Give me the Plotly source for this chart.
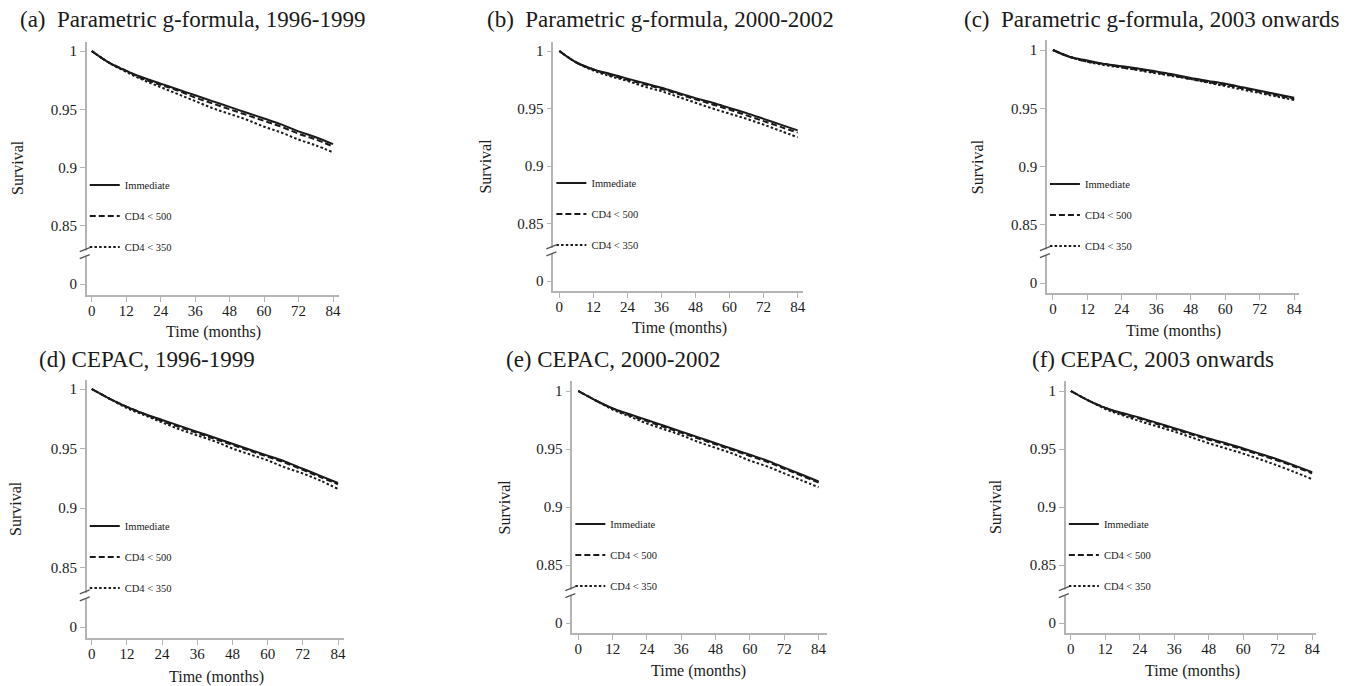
import plotly.graph_objects as go

# Follow-up time (months) at which survival is tabulated
months = [0, 6, 12, 18, 24, 30, 36, 42, 48, 54, 60, 66, 72, 78, 84]

# (a) Parametric g-formula, 1996-1999
a_immediate = [1.000, 0.990, 0.983, 0.977, 0.972, 0.967, 0.962, 0.957, 0.952, 0.947, 0.942, 0.937, 0.931, 0.926, 0.920]
a_cd4_500 = [1.000, 0.990, 0.983, 0.976, 0.971, 0.966, 0.960, 0.955, 0.950, 0.945, 0.940, 0.935, 0.929, 0.924, 0.918]
a_cd4_350 = [1.000, 0.990, 0.982, 0.975, 0.969, 0.963, 0.957, 0.951, 0.946, 0.941, 0.935, 0.930, 0.924, 0.919, 0.913]

# (b) Parametric g-formula, 2000-2002
b_immediate = [1.000, 0.990, 0.984, 0.980, 0.976, 0.972, 0.968, 0.9635, 0.959, 0.955, 0.9505, 0.946, 0.941, 0.936, 0.931]
b_cd4_500 = [1.000, 0.990, 0.984, 0.979, 0.975, 0.971, 0.967, 0.9625, 0.958, 0.9535, 0.949, 0.944, 0.939, 0.934, 0.929]
b_cd4_350 = [1.000, 0.990, 0.983, 0.978, 0.974, 0.969, 0.965, 0.960, 0.955, 0.950, 0.9455, 0.941, 0.936, 0.9305, 0.925]

# (c) Parametric g-formula, 2003 onwards
c_immediate = [1.000, 0.994, 0.991, 0.988, 0.986, 0.984, 0.9815, 0.979, 0.976, 0.9735, 0.971, 0.968, 0.965, 0.962, 0.959]
c_cd4_500 = [1.000, 0.994, 0.990, 0.988, 0.985, 0.983, 0.9805, 0.978, 0.975, 0.9725, 0.970, 0.967, 0.964, 0.961, 0.958]
c_cd4_350 = [1.000, 0.994, 0.990, 0.987, 0.985, 0.9825, 0.980, 0.9775, 0.975, 0.972, 0.969, 0.966, 0.963, 0.960, 0.957]

# (d) CEPAC, 1996-1999
d_immediate = [1.000, 0.992, 0.985, 0.979, 0.974, 0.969, 0.964, 0.959, 0.954, 0.949, 0.944, 0.939, 0.933, 0.927, 0.921]
d_cd4_500 = [1.000, 0.992, 0.985, 0.979, 0.973, 0.968, 0.963, 0.958, 0.953, 0.948, 0.943, 0.938, 0.932, 0.926, 0.920]
d_cd4_350 = [1.000, 0.992, 0.984, 0.978, 0.972, 0.966, 0.961, 0.956, 0.950, 0.945, 0.940, 0.934, 0.929, 0.923, 0.916]

# (e) CEPAC, 2000-2002
e_immediate = [1.000, 0.992, 0.985, 0.980, 0.975, 0.970, 0.965, 0.960, 0.955, 0.950, 0.945, 0.940, 0.934, 0.928, 0.922]
e_cd4_500 = [1.000, 0.992, 0.985, 0.979, 0.974, 0.969, 0.964, 0.959, 0.954, 0.949, 0.944, 0.939, 0.933, 0.927, 0.921]
e_cd4_350 = [1.000, 0.992, 0.984, 0.978, 0.972, 0.967, 0.962, 0.956, 0.951, 0.946, 0.940, 0.935, 0.929, 0.923, 0.917]

# (f) CEPAC, 2003 onwards
f_immediate = [1.000, 0.992, 0.9855, 0.981, 0.977, 0.9725, 0.968, 0.9635, 0.959, 0.955, 0.9505, 0.9458, 0.941, 0.9357, 0.930]
f_cd4_500 = [1.000, 0.992, 0.9855, 0.980, 0.976, 0.9715, 0.967, 0.9625, 0.958, 0.954, 0.9495, 0.9447, 0.940, 0.9347, 0.929]
f_cd4_350 = [1.000, 0.992, 0.9845, 0.979, 0.974, 0.9695, 0.965, 0.960, 0.955, 0.9505, 0.946, 0.941, 0.9357, 0.930, 0.924]

panel_titles = [
    "(a)  Parametric g-formula, 1996-1999",
    "(b)  Parametric g-formula, 2000-2002",
    "(c)  Parametric g-formula, 2003 onwards",
    "(d) CEPAC, 1996-1999",
    "(e) CEPAC, 2000-2002",
    "(f) CEPAC, 2003 onwards",
]
series_names = ["Immediate", "CD4 < 500", "CD4 < 350"]
panel_series = [
    [a_immediate, a_cd4_500, a_cd4_350],
    [b_immediate, b_cd4_500, b_cd4_350],
    [c_immediate, c_cd4_500, c_cd4_350],
    [d_immediate, d_cd4_500, d_cd4_350],
    [e_immediate, e_cd4_500, e_cd4_350],
    [f_immediate, f_cd4_500, f_cd4_350],
]

# The y axis is broken: the lowest tick ("0") sits one step below 0.85
y_tick_vals = [0.80, 0.85, 0.90, 0.95, 1.00]
y_tick_text = ["0", "0.85", "0.9", "0.95", "1"]
x_tick_vals = [0, 12, 24, 36, 48, 60, 72, 84]
break_at = 0.827

W, H = 1366, 686
FONT = "Times New Roman, Liberation Serif, serif"
INK = "#1a1a1a"
AXIS_GREY = "#b4b4b4"
dash_styles = ["solid", "6px,3px", "2.5px,2.2px"]

# Frame geometry in pixels: axis extents, pixel of month 0 / 84, pixel of survival 1 / the "0" tick,
# and the anchor points of the titles and legend
frames = [
    dict(left=87, right=340, x0=92, x84=334, top=42, bottom=295, y1=51, y0=284,
         tx=18, ty=20, ysx=17, ysy=167, xsx=214, xsy=332, ly=184),
    dict(left=555, right=805, x0=561, x84=800, top=42, bottom=291, y1=51, y0=281,
         tx=486, ty=20, ysx=487, ysy=166, xsx=681, xsy=328, ly=182),
    dict(left=1050, right=1303, x0=1056, x84=1298, top=40, bottom=293, y1=50, y0=283,
         tx=965, ty=20, ysx=980, ysy=167, xsx=1177, xsy=331, ly=183),
    dict(left=87, right=345, x0=92, x84=339, top=380, bottom=638, y1=389, y0=627,
         tx=37, ty=359, ysx=15, ysy=508, xsx=217, xsy=677, ly=525),
    dict(left=574, right=829, x0=580, x84=821, top=381, bottom=633, y1=391, y0=623,
         tx=505, ty=360, ysx=505, ysy=507, xsx=701, xsy=671, ly=523),
    dict(left=1069, right=1320, x0=1074, x84=1316, top=381, bottom=633, y1=391, y0=623,
         tx=1033, ty=360, ysx=998, ysy=507, xsx=1196, xsy=671, ly=523),
]


def px_x(p):
    return p / W


def px_y(p):
    return 1 - p / H


fig = go.Figure()
layout = dict(
    width=W, height=H,
    margin=dict(l=0, r=0, t=0, b=0),
    paper_bgcolor="white", plot_bgcolor="white",
    font=dict(family=FONT, color=INK),
    annotations=[], shapes=[],
)

for i, (fr, series, title) in enumerate(zip(frames, panel_series, panel_titles)):
    n = "" if i == 0 else str(i + 1)
    xa, ya, lg = "x" + n, "y" + n, "legend" + n

    xs = (fr["x84"] - fr["x0"]) / 84.0
    x_range = [-(fr["x0"] - fr["left"]) / xs, 84 + (fr["right"] - fr["x84"]) / xs]
    ys = (fr["y0"] - fr["y1"]) / 0.20
    y_range = [0.80 - (fr["bottom"] - fr["y0"]) / ys, 1.0 + (fr["y1"] - fr["top"]) / ys]

    layout["xaxis" + n] = dict(
        domain=[px_x(fr["left"]), px_x(fr["right"])], anchor=ya, range=x_range,
        tickvals=x_tick_vals, ticks="outside", ticklen=5, tickcolor=AXIS_GREY,
        ticklabelstandoff=-4,
        showline=True, linecolor=AXIS_GREY, linewidth=1.5, showgrid=False, zeroline=False,
        tickfont=dict(family=FONT, size=15, color=INK), fixedrange=True,
    )
    layout["yaxis" + n] = dict(
        domain=[px_y(fr["bottom"]), px_y(fr["top"])], anchor=xa, range=y_range,
        tickvals=y_tick_vals, ticktext=y_tick_text, ticks="outside", ticklen=5, tickcolor=AXIS_GREY,
        showline=True, linecolor=AXIS_GREY, linewidth=1.5, showgrid=False, zeroline=False,
        tickfont=dict(family=FONT, size=15, color=INK), fixedrange=True,
    )

    for name, vals, dash in zip(series_names, series, dash_styles):
        fig.add_trace(go.Scatter(
            x=months, y=vals, name=name, mode="lines",
            line=dict(color=INK, width=2, dash=dash, shape="spline", smoothing=1.0),
            xaxis=xa, yaxis=ya, legend=lg, legendgroup=f"{lg}-{name}",
            hoverinfo="skip",
        ))

    # legend sits inside the frame, just right of the y axis
    layout[lg] = dict(
        x=px_x(fr["left"] - 2), y=px_y(fr["ly"] - 13.5), xanchor="left", yanchor="top",
        bgcolor="rgba(0,0,0,0)", borderwidth=0, tracegroupgap=12,
        font=dict(family=FONT, size=10.5, color=INK), itemclick=False, itemdoubleclick=False,
    )

    # panel title, axis titles
    layout["annotations"] += [
        dict(text=title, x=px_x(fr["tx"]), y=px_y(fr["ty"]), xref="paper", yref="paper",
             xanchor="left", yanchor="middle", showarrow=False,
             font=dict(family=FONT, size=23, color=INK)),
        dict(text="Survival", x=px_x(fr["ysx"]), y=px_y(fr["ysy"]), xref="paper", yref="paper",
             xanchor="center", yanchor="middle", textangle=-90, showarrow=False,
             font=dict(family=FONT, size=16, color=INK)),
        dict(text="Time (months)", x=px_x(fr["xsx"]), y=px_y(fr["xsy"]), xref="paper", yref="paper",
             xanchor="center", yanchor="middle", showarrow=False,
             font=dict(family=FONT, size=16, color=INK)),
    ]

    # axis break: gap in the y axis line with two slanted strokes
    xd = xa + " domain"
    layout["shapes"] += [
        dict(type="rect", xref=xd, yref=ya, xsizemode="pixel", ysizemode="pixel",
             xanchor=0, yanchor=break_at, x0=-3, x1=3, y0=-4, y1=2,
             fillcolor="white", line=dict(width=0), layer="above"),
        dict(type="line", xref=xd, yref=ya, xsizemode="pixel", ysizemode="pixel",
             xanchor=0, yanchor=break_at, x0=-7, x1=3, y0=1, y1=5,
             line=dict(color="#555555", width=1.3), layer="above"),
        dict(type="line", xref=xd, yref=ya, xsizemode="pixel", ysizemode="pixel",
             xanchor=0, yanchor=break_at, x0=-7, x1=3, y0=-6, y1=-2,
             line=dict(color="#555555", width=1.3), layer="above"),
    ]

fig.update_layout(**layout)
fig.write_html("out.html")
